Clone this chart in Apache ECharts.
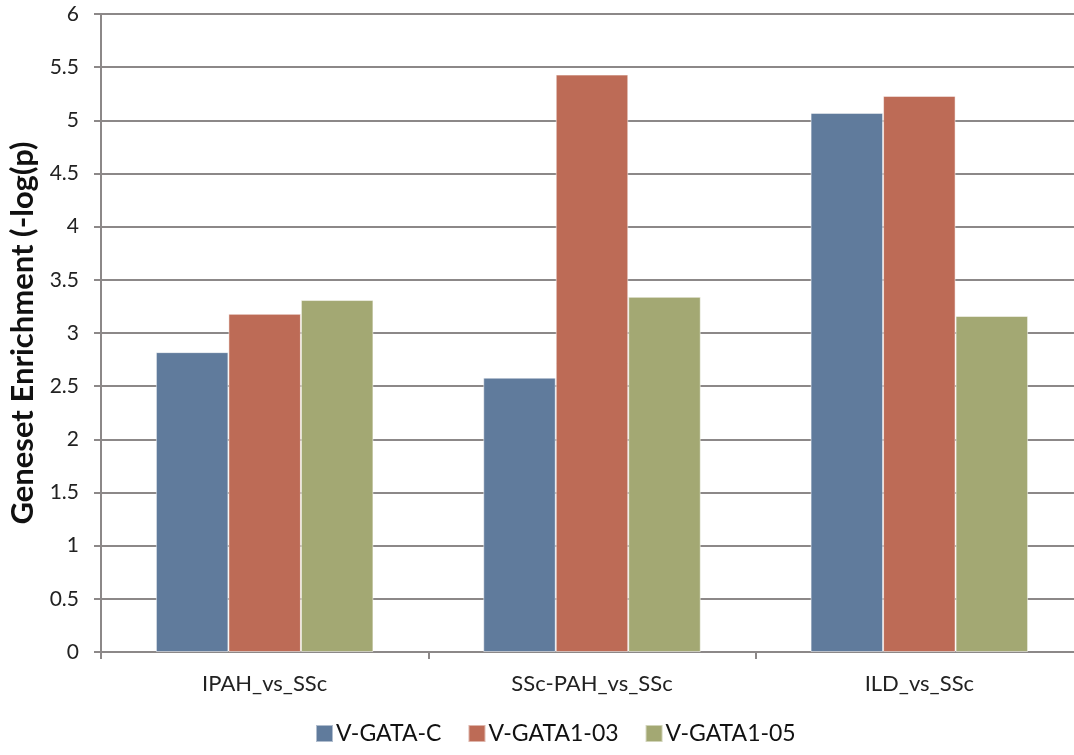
<!DOCTYPE html>
<html>
<head>
<meta charset="utf-8">
<script src="https://cdn.jsdelivr.net/npm/echarts@6/dist/echarts.min.js"></script>
<style>
  html, body { margin: 0; padding: 0; background: #fff; }
  #chart { width: 1074px; height: 755px; }
</style>
</head>
<body>
<div id="chart"></div>
<script>
// Comparisons on the x axis
const categories = ['IPAH_vs_SSc', 'SSc-PAH_vs_SSc', 'ILD_vs_SSc'];
// Geneset enrichment, -log(p), per gene set
const vGataC = [2.82, 2.58, 5.07];
const vGata103 = [3.18, 5.43, 5.23];
const vGata105 = [3.31, 3.34, 3.16];
const seriesNames = ['V-GATA-C', 'V-GATA1-03', 'V-GATA1-05'];
const colors = ['#607B9C', '#BD6B56', '#A3A873'];

const font = 'Lato, "Open Sans", sans-serif';
const chart = echarts.init(document.getElementById('chart'));

const makeSeries = (name, data, color) => ({
  name: name,
  type: 'bar',
  data: data,
  barWidth: 72.5,
  barGap: '0%',
  itemStyle: { color: color, borderColor: 'rgba(255,255,255,0.5)', borderWidth: 1 }
});

chart.setOption({
  animation: false,
  color: colors,
  // the plot runs slightly past the right edge of the canvas
  grid: { left: 101, top: 14, width: 982, height: 638, containLabel: false, outerBoundsMode: 'none' },
  legend: {
    bottom: 5,
    left: 310,
    itemWidth: 17,
    itemHeight: 17,
    itemGap: 26,
    icon: 'rect',
    textStyle: { fontFamily: font, fontSize: 23, color: '#111', padding: [0, 0, 0, -2] },
    data: seriesNames
  },
  xAxis: {
    type: 'category',
    data: categories,
    axisLine: { lineStyle: { color: '#8c8888', width: 2 } },
    axisTick: { show: true, length: 7, lineStyle: { color: '#8c8888', width: 2 } },
    axisLabel: { fontFamily: font, fontSize: 22, color: '#222', margin: 21 }
  },
  yAxis: {
    type: 'value',
    min: 0,
    max: 6,
    interval: 0.5,
    name: 'Geneset Enrichment (-log(p)',
    nameLocation: 'middle',
    nameGap: 63,
    nameTextStyle: { fontFamily: font, fontSize: 31, fontWeight: 'bold', color: '#111' },
    axisLine: { show: true, lineStyle: { color: '#8c8888', width: 2 } },
    axisTick: { show: true, length: 7, lineStyle: { color: '#8c8888', width: 2 } },
    axisLabel: { fontFamily: font, fontSize: 21, color: '#222', margin: 22 },
    splitLine: { lineStyle: { color: '#8c8888', width: 2 } }
  },
  series: [
    makeSeries(seriesNames[0], vGataC, colors[0]),
    makeSeries(seriesNames[1], vGata103, colors[1]),
    makeSeries(seriesNames[2], vGata105, colors[2])
  ]
});
</script>
</body>
</html>
